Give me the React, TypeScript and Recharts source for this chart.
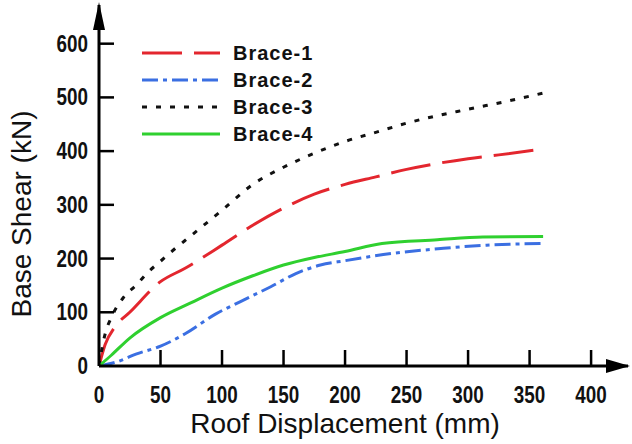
import React from 'react';
import { LineChart, Line, XAxis, YAxis, Legend, ReferenceDot } from 'recharts';

// Pushover curves: roof displacement (mm) vs base shear (kN)
const disp1 = [0, 5, 13, 25, 50, 70, 100, 125, 150, 175, 200, 225, 250, 275, 300, 325, 361];
const shear1 = [0, 40, 73, 100, 157, 182, 225, 262, 294, 320, 338, 352, 366, 377, 386, 393, 404];

const disp2 = [0, 15, 30, 50, 70, 95, 115, 140, 160, 180, 200, 240, 280, 315, 361];
const shear2 = [0, 8, 22, 37, 60, 97, 120, 148, 172, 188, 196, 210, 219, 225, 228];

const disp3 = [0, 5, 10, 20, 30, 40, 50, 60, 75, 100, 125, 150, 175, 200, 225, 250, 300, 330, 361];
const shear3 = [0, 60, 90, 128, 150, 175, 195, 215, 243, 290, 338, 370, 396, 418, 435, 452, 478, 492, 508];

const disp4 = [0, 10, 25, 50, 75, 100, 125, 150, 175, 200, 230, 275, 312, 361];
const shear4 = [0, 20, 52, 90, 118, 145, 168, 188, 202, 213, 228, 235, 240, 241];

const xTicks = [0, 50, 100, 150, 200, 250, 300, 350, 400];
const yTicks = [0, 100, 200, 300, 400, 500, 600];

const seriesNames = ['Brace-1', 'Brace-2', 'Brace-3', 'Brace-4'];
const seriesColors = ['#e3262e', '#3b6fe2', '#111111', '#2fd02f'];
const seriesDash = ['40 12', '16 5 4 5', '5 9', undefined];

const toPoints = (d: number[], v: number[]) => d.map((x, i) => ({ d: x, v: v[i] }));
const seriesData = [
  toPoints(disp1, shear1),
  toPoints(disp2, shear2),
  toPoints(disp3, shear3),
  toPoints(disp4, shear4),
];

const X_MAX = 430;
const Y_MAX = 672;
const FONT = '"Liberation Sans", Arial, sans-serif';

const XTick = (props: any) => {
  const { x, y, payload } = props;
  return (
    <g>
      {payload.value !== 0 && (
        <line x1={x} x2={x} y1={y} y2={y - 16} stroke="#000" strokeWidth={2.5} />
      )}
      <text
        transform={`translate(${x},${y + 37}) scale(0.82,1)`}
        textAnchor="middle"
        fontFamily={FONT}
        fontWeight="bold"
        fontSize={23}
        fill="#111"
      >
        {payload.value}
      </text>
    </g>
  );
};

const YTick = (props: any) => {
  const { x, y, payload } = props;
  return (
    <g>
      {payload.value !== 0 && (
        <line x1={x} x2={x + 15} y1={y} y2={y} stroke="#000" strokeWidth={2.5} />
      )}
      <text
        transform={`translate(${x - 11},${y + 8}) scale(0.82,1)`}
        textAnchor="end"
        fontFamily={FONT}
        fontWeight="bold"
        fontSize={23}
        fill="#111"
      >
        {payload.value}
      </text>
    </g>
  );
};

const XTitle = (props: any) => {
  const { viewBox } = props;
  const cx = viewBox.x + (viewBox.width * 200) / X_MAX;
  return (
    <text x={cx} y={viewBox.y + 67} textAnchor="middle" fontFamily={FONT} fontSize={28} fill="#111">
      Roof Displacement (mm)
    </text>
  );
};

const YTitle = () => (
  <text
    transform="translate(31,214) rotate(-90)"
    textAnchor="middle"
    fontFamily={FONT}
    fontSize={28}
    fill="#111"
  >
    Base Shear (kN)
  </text>
);

const LegendBox = () => (
  <svg width={200} height={112}>
    {seriesNames.map((name, i) => {
      const y = 15 + i * 27;
      return (
        <g key={name}>
          <line
            x1={2}
            x2={80}
            y1={y}
            y2={y}
            stroke={seriesColors[i]}
            strokeWidth={3}
            strokeDasharray={seriesDash[i]}
          />
          <text x={93} y={y + 7} fontFamily={FONT} fontWeight="bold" fontSize={20} letterSpacing={1} fill="#111">
            {name}
          </text>
        </g>
      );
    })}
  </svg>
);

const UpArrow = (p: any) => (
  <polygon points={`${p.cx},${p.cy - 3} ${p.cx - 6},${p.cy + 25} ${p.cx + 6},${p.cy + 25}`} fill="#000" />
);

const RightArrow = (p: any) => (
  <polygon points={`${p.cx + 2},${p.cy} ${p.cx - 22},${p.cy - 7} ${p.cx - 22},${p.cy + 7}`} fill="#000" />
);

export default function App() {
  return (
    <div style={{ position: 'absolute', left: 0, top: 0, width: 632, height: 444, background: '#fff' }}>
      <LineChart width={632} height={444} margin={{ top: 5, right: 4, bottom: 0, left: 0 }}>
        <XAxis
          type="number"
          dataKey="d"
          domain={[0, X_MAX]}
          ticks={xTicks}
          allowDataOverflow
          height={78}
          tickSize={0}
          tickMargin={0}
          tickLine={false}
          axisLine={{ stroke: '#000', strokeWidth: 3 }}
          tick={<XTick />}
          label={<XTitle />}
        />
        <YAxis
          type="number"
          dataKey="v"
          domain={[0, Y_MAX]}
          ticks={yTicks}
          allowDataOverflow
          width={99}
          tickSize={0}
          tickMargin={0}
          tickLine={false}
          axisLine={{ stroke: '#000', strokeWidth: 3 }}
          tick={<YTick />}
          label={<YTitle />}
        />
        <Legend
          layout="vertical"
          align="center"
          verticalAlign="middle"
          content={<LegendBox />}
          wrapperStyle={{ position: 'absolute', left: 140, top: 38, width: 200, height: 112 }}
        />
        {seriesData.map((data, i) => (
          <Line
            key={seriesNames[i]}
            data={data}
            dataKey="v"
            name={seriesNames[i]}
            type="monotone"
            stroke={seriesColors[i]}
            strokeWidth={3}
            strokeDasharray={seriesDash[i]}
            dot={false}
            activeDot={false}
            isAnimationActive={false}
          />
        ))}
        <ReferenceDot x={0} y={Y_MAX} r={0} ifOverflow="visible" shape={<UpArrow />} />
        <ReferenceDot x={X_MAX} y={0} r={0} ifOverflow="visible" shape={<RightArrow />} />
      </LineChart>
    </div>
  );
}
